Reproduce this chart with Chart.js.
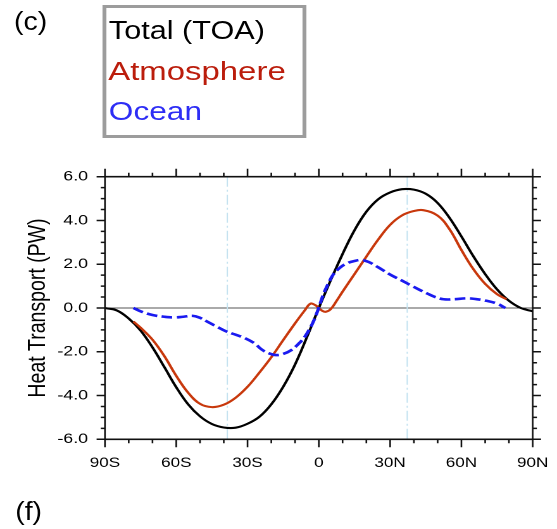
<!DOCTYPE html>
<html><head><meta charset="utf-8">
<script src="https://cdn.jsdelivr.net/npm/chart.js@4/dist/chart.umd.min.js"></script>
<style>
html,body{margin:0;padding:0;background:#fff;overflow:hidden;width:557px;height:529px;}
#wrap{position:absolute;left:0;top:0;width:440px;height:529px;transform:scaleX(1.2659);transform-origin:0 0;}
#c{position:absolute;left:0;top:0;}
.t{position:absolute;font-family:"Liberation Sans",Arial,Helvetica,sans-serif;white-space:nowrap;transform-origin:0 0;}
#legbox{position:absolute;left:81.4px;top:5px;width:160.3px;height:132.7px;box-sizing:border-box;border:3px solid #9c9c9c;}
.leg{font-size:26px;line-height:40px;left:85.5px;}
.pl{font-size:25px;line-height:30px;color:#000;transform:scaleX(0.9);}
</style>
</head><body>
<div id="wrap">
  <canvas id="c" width="440" height="529"></canvas>
  <div class="t pl" style="left:10.5px;top:6.3px;">(c)</div>
  <div id="legbox"></div>
  <div class="t leg" style="top:10.3px;color:#000;transform:scaleX(0.931);">Total (TOA)</div>
  <div class="t leg" style="top:51.2px;color:#bb1d0c;transform:scaleX(1.0);">Atmosphere</div>
  <div class="t leg" style="top:91px;color:#2d2df5;transform:scaleX(0.96);">Ocean</div>
  <div class="t pl" style="left:11.5px;top:496.3px;">(f)</div>
</div>
<script>
// ---- data (latitude in degrees, heat transport in PW) ----
const totalLat = [-90,-85,-80,-75,-70,-65,-60,-55,-50,-45,-40,-35,-30,-25,-20,-15,-10,-5,0,5,10,15,20,25,30,35,40,45,50,55,60,65,70,75,80,85,90];
const totalVal = [0,-0.11,-0.48,-1.03,-1.8,-2.7,-3.62,-4.4,-4.95,-5.3,-5.46,-5.47,-5.29,-4.97,-4.4,-3.6,-2.58,-1.33,0,1.27,2.47,3.55,4.4,4.97,5.28,5.43,5.41,5.22,4.8,4.12,3.27,2.37,1.55,0.85,0.33,0.0,-0.15];

const atmLat = [-78,-75,-70,-65,-60,-55,-50,-45,-40,-35,-30,-25,-20,-15,-10,-6,-3.5,-1.5,0,1.5,3,5,7.5,10,15,20,25,30,35,40,44,50,55,60,65,70,75,79];
const atmVal = [-0.62,-0.9,-1.45,-2.2,-3.1,-3.87,-4.38,-4.53,-4.42,-4.1,-3.6,-2.95,-2.25,-1.47,-0.7,-0.12,0.2,0.13,0,-0.13,-0.17,-0.05,0.33,0.75,1.55,2.35,3.13,3.8,4.23,4.43,4.47,4.22,3.6,2.65,1.78,1.1,0.63,0.4];

const ocnLat = [-78,-75,-70,-65,-61,-57,-53,-50,-47,-43,-39,-35,-31,-27,-24,-21,-18,-15,-11.5,-8,-6,-4,-2,0,2,4,6,9,12,15,18,21,25,30,35,38.5,42,45.5,49,52.5,57,62,66,70.5,75,78.5];
const ocnVal = [0,-0.15,-0.32,-0.4,-0.43,-0.4,-0.36,-0.45,-0.62,-0.85,-1.07,-1.22,-1.38,-1.62,-1.9,-2.07,-2.15,-2.1,-1.92,-1.58,-1.33,-0.98,-0.55,0.02,0.65,1.12,1.52,1.85,2.05,2.15,2.19,2.1,1.86,1.53,1.25,1.05,0.85,0.67,0.5,0.4,0.4,0.44,0.41,0.33,0.2,0];

const xTickVals = [-90,-60,-30,0,30,60,90];
const xTickLabels = ['90S','60S','30S','0','30N','60N','90N'];
const yTickVals = [-6,-4,-2,0,2,4,6];
const yTickLabels = ['-6.0','-4.0','-2.0','0.0','2.0','4.0','6.0'];
const refLats = [-38.5, 37.2];

const FONT = '"Liberation Sans", Arial, Helvetica, sans-serif';
const pts = (xs, ys) => xs.map((x, i) => ({x: x, y: ys[i]}));

const framePlugin = {
  id: 'frame',
  beforeDatasetsDraw(chart) {
    const {ctx, chartArea: a, scales: {x, y}} = chart;
    ctx.save();
    ctx.strokeStyle = '#555';
    ctx.lineWidth = 1.1;
    const y0 = y.getPixelForValue(0);
    ctx.beginPath(); ctx.moveTo(a.left, y0); ctx.lineTo(a.right, y0); ctx.stroke();
    ctx.strokeStyle = '#c4e2f0';
    ctx.lineWidth = 1;
    ctx.setLineDash([10, 3, 2, 3]);
    refLats.forEach(l => {
      const px = x.getPixelForValue(l);
      ctx.beginPath(); ctx.moveTo(px, a.top); ctx.lineTo(px, a.bottom); ctx.stroke();
    });
    ctx.restore();
  },
  afterDraw(chart) {
    const {ctx, chartArea: a, scales: {x, y}} = chart;
    ctx.save();
    ctx.strokeStyle = '#111';
    ctx.lineWidth = 1.6;
    ctx.beginPath();
    ctx.moveTo(a.left - 0.7, a.top); ctx.lineTo(a.right + 0.7, a.top);
    ctx.moveTo(a.left - 0.7, a.bottom); ctx.lineTo(a.right + 0.7, a.bottom);
    ctx.stroke();
    ctx.lineWidth = 1.3;
    ctx.beginPath();
    ctx.moveTo(a.left, a.top); ctx.lineTo(a.left, a.bottom);
    ctx.moveTo(a.right, a.top); ctx.lineTo(a.right, a.bottom);
    ctx.stroke();
    ctx.lineWidth = 1.3;
    ctx.beginPath();
    for (let v = -90; v <= 90; v += 10) {
      const px = x.getPixelForValue(v);
      const len = (v % 30 === 0) ? 8 : 4;
      ctx.moveTo(px, a.bottom); ctx.lineTo(px, a.bottom + len);
      ctx.moveTo(px, a.top); ctx.lineTo(px, a.top - len);
    }
    ctx.stroke();
    ctx.lineWidth = 1.5;
    ctx.beginPath();
    for (let k = -12; k <= 12; k++) {
      const v = k * 0.5;
      const py = y.getPixelForValue(v);
      const len = (k % 4 === 0) ? 6.6 : 3.3;
      ctx.moveTo(a.left, py); ctx.lineTo(a.left - len, py);
      ctx.moveTo(a.right, py); ctx.lineTo(a.right + len, py);
    }
    ctx.stroke();
    ctx.restore();
  }
};

new Chart(document.getElementById('c'), {
  type: 'line',
  data: {
    datasets: [
      {label: 'Ocean', data: pts(ocnLat, ocnVal), borderColor: '#1a1af0', borderWidth: 2.6, borderDash: [8.5, 3.5], order: 0},
      {label: 'Atmosphere', data: pts(atmLat, atmVal), borderColor: '#c8380c', borderWidth: 2.1, order: 1},
      {label: 'Total (TOA)', data: pts(totalLat, totalVal), borderColor: '#000000', borderWidth: 2.1, order: 2}
    ]
  },
  options: {
    responsive: false,
    animation: false,
    devicePixelRatio: 2,
    layout: {padding: {left: 0, top: 176.7, right: 19.2, bottom: 49.7}},
    elements: {point: {radius: 0}, line: {tension: 0.4, fill: false, borderJoinStyle: 'round', borderCapStyle: 'butt'}},
    plugins: {legend: {display: false}, tooltip: {enabled: false}, title: {display: false}},
    scales: {
      x: {
        type: 'linear', min: -90, max: 90,
        afterBuildTicks: s => { s.ticks = xTickVals.map(v => ({value: v})); },
        afterFit: s => { s.height = 40; s.paddingLeft = 0; s.paddingRight = 0; },
        grid: {display: false, drawTicks: false},
        border: {display: false},
        ticks: {
          callback: v => xTickLabels[xTickVals.indexOf(v)],
          font: {family: FONT, size: 13.5}, color: '#000', padding: 15.8,
          maxRotation: 0, autoSkip: false
        }
      },
      y: {
        type: 'linear', min: -6, max: 6,
        afterBuildTicks: s => { s.ticks = yTickVals.map(v => ({value: v})); },
        afterFit: s => { s.width = 82.9; s.paddingTop = 0; s.paddingBottom = 0; },
        grid: {display: false, drawTicks: false},
        border: {display: false},
        title: {display: true, text: 'Heat Transport (PW)', color: '#000',
                font: {family: FONT, size: 19.5}, padding: {top: 18.3, bottom: 0}},
        ticks: {
          callback: v => yTickLabels[yTickVals.indexOf(v)],
          font: {family: FONT, size: 14}, color: '#000', padding: 13.4, autoSkip: false
        }
      }
    }
  },
  plugins: [framePlugin]
});
</script>
</body></html>
